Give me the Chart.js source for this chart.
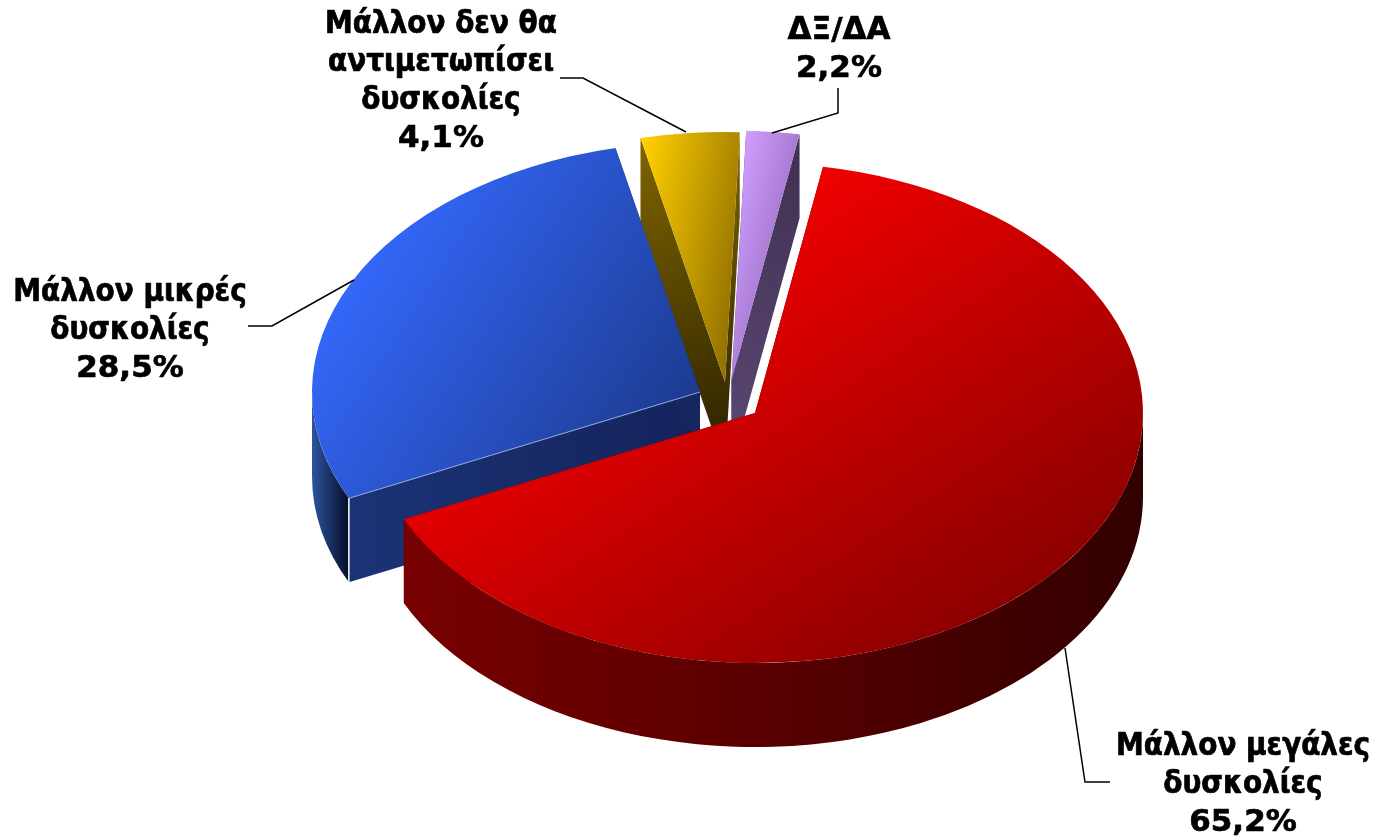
<!DOCTYPE html>
<html>
<head>
<meta charset="utf-8">
<title>Pie</title>
<script src="https://cdn.jsdelivr.net/npm/chart.js@4"></script>
<style>
html, body { margin: 0; background: #fff; }
#box { width: 1377px; height: 837px; }
</style>
</head>
<body>
<div id="box"><canvas id="pieChart"></canvas></div>
<script>
// data
var categories = [
    ["Μάλλον μεγάλες", "δυσκολίες"],
    ["Μάλλον μικρές", "δυσκολίες"],
    ["Μάλλον δεν θα", "αντιμετωπίσει", "δυσκολίες"],
    ["ΔΞ/ΔΑ"]
];
var values = [65.2, 28.5, 4.1, 2.2];

// look of the fake 3d pie
var radius = 388;
var tilt = 250 / 388;
var depth = 84;
var screenCy = 400;
var startAngle = 10.1;
var explode = [[66.5, 13], [11.5, -8], [36.5, -18], [43, -19.5]];
var topColors = [
    { from: [820, 170], to: [1323, 488], stops: ["#f00000", "#7c0000"] },
    { from: [330, 300], to: [700, 400], stops: ["#3468fb", "#1c3a8e"] },
    { from: [645, 140], to: [775, 150], stops: ["#ffcf00", "#8a6a00"] },
    { from: [745, 140], to: [827, 148], stops: ["#cf9dff", "#9268b8"] }
];
var faceColors = [
    ["#600000", "#600000"],
    ["#1b3375", "#14235c"],
    ["#7f6500", "#2a2000"],
    ["#3f3052", "#5c4874"]
];
var rimColors = [
    ["#780000", "#580000", "#320000"],
    ["#2c549f", "#050e28"],
    ["#000", "#000"],
    ["#000", "#000"]
];
var leaders = [
    [[1065, 648], [1085, 782], [1110, 782]],
    [[354, 280], [272, 326], [248, 326]],
    [[686, 132], [583, 78], [560, 78]],
    [[772, 133], [838, 113], [838, 88]]
];
var labelSpots = [
    { x: 1243, y: 755 },
    { x: 130, y: 301 },
    { x: 441, y: 33 },
    { x: 839, y: 39 }
];
var labelFont = "bold 31px 'DejaVu Sans Condensed', 'DejaVu Sans'";
var wideFont = "bold 31px 'DejaVu Sans'"; // percents and capitals run wider in the original
var lineGap = 38;

function flatY(y, chart) {
    // screen y -> y the chart sees before it gets squashed
    var cy = (chart.chartArea.top + chart.chartArea.bottom) / 2;
    return cy + (y - screenCy) / tilt;
}
function screenY(y, chart) {
    var cy = (chart.chartArea.top + chart.chartArea.bottom) / 2;
    return screenCy + (y - cy) * tilt;
}
function lineGrad(ctx, x0, y0, x1, y1, stops) {
    var g = ctx.createLinearGradient(x0, y0, x1, y1);
    stops.forEach(function (c, i) {
        g.addColorStop(i / (stops.length - 1), c);
    });
    return g;
}

function drawFace(ctx, chart, arc, angle, colors) {
    var ax = arc.x, ay = screenY(arc.y, chart);
    var rx = ax + radius * Math.cos(angle);
    var ry = ay + radius * tilt * Math.sin(angle);
    ctx.fillStyle = lineGrad(ctx, rx, ry, ax, ay + depth, colors);
    ctx.beginPath();
    ctx.moveTo(ax, ay);
    ctx.lineTo(rx, ry);
    ctx.lineTo(rx, ry + depth);
    ctx.lineTo(ax, ay + depth);
    ctx.closePath();
    ctx.fill();
}

function drawRim(ctx, chart, arc, colors) {
    var a0 = Math.max(arc.startAngle, 0);
    var a1 = Math.min(arc.endAngle, Math.PI);
    if (a1 <= a0) return;
    var ay = screenY(arc.y, chart);
    var left = arc.x + radius * Math.min(Math.cos(a0), Math.cos(a1));
    var right = arc.x + radius * Math.max(Math.cos(a0), Math.cos(a1));
    ctx.fillStyle = lineGrad(ctx, left, 0, right, 0, colors);
    ctx.beginPath();
    ctx.ellipse(arc.x, ay, radius, radius * tilt, 0, a0, a1);
    ctx.ellipse(arc.x, ay + depth, radius, radius * tilt, 0, a1, a0, true);
    ctx.closePath();
    ctx.fill();
}

var pie3d = {
    id: "pie3d",
    afterDatasetUpdate: function (chart) {
        chart.getDatasetMeta(0).data.forEach(function (arc, i) {
            arc.x += explode[i][0];
            arc.y += explode[i][1] / tilt;
        });
    },
    beforeDatasetsDraw: function (chart) {
        var ctx = chart.ctx;
        var arcs = chart.getDatasetMeta(0).data;
        // back slices first so the front ones sit on top
        [2, 3, 1, 0].forEach(function (i) {
            drawFace(ctx, chart, arcs[i], arcs[i].startAngle, faceColors[i]);
            drawFace(ctx, chart, arcs[i], arcs[i].endAngle, faceColors[i]);
            drawRim(ctx, chart, arcs[i], rimColors[i]);
        });
        var cy = (chart.chartArea.top + chart.chartArea.bottom) / 2;
        ctx.save();
        ctx.translate(0, screenCy);
        ctx.scale(1, tilt);
        ctx.translate(0, -cy);
    },
    afterDatasetsDraw: function (chart) {
        var ctx = chart.ctx;
        ctx.restore();

        // light seam on the blue slice
        var blue = chart.getDatasetMeta(0).data[1];
        var by = screenY(blue.y, chart);
        var ex = blue.x + radius * Math.cos(blue.startAngle);
        var ey = by + radius * tilt * Math.sin(blue.startAngle);
        ctx.lineWidth = 1;
        ctx.strokeStyle = "#8fa6d8";
        ctx.beginPath();
        ctx.moveTo(blue.x, by);
        ctx.lineTo(ex, ey);
        ctx.stroke();
        ctx.strokeStyle = "#fff";
        ctx.lineWidth = 1.5;
        ctx.beginPath();
        ctx.moveTo(ex, ey);
        ctx.lineTo(ex, ey + depth);
        ctx.stroke();

        // leader lines
        ctx.strokeStyle = "#000";
        ctx.lineWidth = 1.5;
        leaders.forEach(function (pts) {
            ctx.beginPath();
            pts.forEach(function (p, j) {
                if (j === 0) ctx.moveTo(p[0], p[1]);
                else ctx.lineTo(p[0], p[1]);
            });
            ctx.stroke();
        });

        // labels, a thin stroke makes them as heavy as the original
        ctx.fillStyle = "#000";
        ctx.strokeStyle = "#000";
        ctx.lineWidth = 0.7;
        ctx.lineJoin = "round";
        ctx.textAlign = "center";
        ctx.textBaseline = "alphabetic";
        categories.forEach(function (lines, i) {
            var text = lines.concat(values[i].toFixed(1).replace(".", ",") + "%");
            text.forEach(function (t, j) {
                var y = labelSpots[i].y + j * lineGap;
                ctx.font = (j === lines.length || t === t.toUpperCase()) ? wideFont : labelFont;
                ctx.fillText(t, labelSpots[i].x, y);
                ctx.strokeText(t, labelSpots[i].x, y);
            });
        });
    }
};

var ctx = document.getElementById("pieChart").getContext("2d");
var myChart = new Chart(ctx, {
    type: "pie",
    data: {
        labels: categories,
        datasets: [{
            data: values,
            radius: radius,
            borderWidth: 0,
            clip: false,
            backgroundColor: function (c) {
                var t = topColors[c.dataIndex];
                if (!t || !c.chart.chartArea) return "#888";
                return lineGrad(c.chart.ctx,
                    t.from[0], flatY(t.from[1], c.chart),
                    t.to[0], flatY(t.to[1], c.chart), t.stops);
            }
        }]
    },
    options: {
        responsive: true,
        maintainAspectRatio: false,
        animation: false,
        events: [],
        rotation: startAngle,
        radius: radius,
        layout: { padding: 0 },
        plugins: {
            legend: { display: false },
            tooltip: { enabled: false }
        }
    },
    plugins: [pie3d]
});
</script>
</body>
</html>
